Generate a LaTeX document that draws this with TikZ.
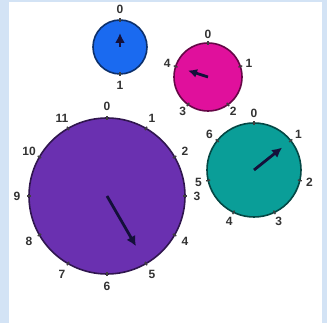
\documentclass[tikz,border=0pt]{standalone}
\usepackage{fontspec}
\setmainfont{Liberation Sans}
\usetikzlibrary{arrows.meta}
\definecolor{bgblue}{HTML}{D3E3F5}
\definecolor{dialblue}{HTML}{1A6AF0}
\definecolor{dialmag}{HTML}{E0109C}
\definecolor{dialteal}{HTML}{0A9E98}
\definecolor{dialpurple}{HTML}{6A30B0}
\definecolor{handcol}{HTML}{14103A}
\tikzset{
  dial/.style={circle, inner sep=0pt, line width=1.6pt},
  lbl/.style={inner sep=0pt, font=\fontsize{12}{12}\selectfont\bfseries, text=black!80},
  tickmark/.style={line width=1.4pt, draw=black!75},
  hand/.style={line width=2.8pt, draw=handcol, -{Latex[length=#1,width=#1]}},
}
% #1 x, #2 y, #3 radius, #4 count, #5 label radius, #6 colour, #7 hand index, #8 hand length, #9 name
\newcommand\mydial[9]{%
  \node[dial, fill=#6, draw=#6!45!black, minimum size=2*#3pt] (#9) at (#1,#2) {};
  \begin{scope}[shift={(#1,#2)}]
    \pgfmathtruncatemacro\nmax{#4-1}
    \pgfmathsetmacro\rin{#3-2}
    \pgfmathsetmacro\rout{#3+2}
    \foreach \k in {0,...,\nmax}{
      \pgfmathsetmacro\a{-90+360*\k/#4}
      \draw[tickmark] (\a:\rin) -- (\a:\rout);
      \node[lbl] (#9-\k) at (\a:#5) {\k};
    }
    \pgfmathsetmacro\ha{-90+360*#7/#4}
    \coordinate (#9-tip) at (\ha:#8);
  \end{scope}
}
\begin{document}
\begin{tikzpicture}[x=1pt,y=-1pt]
\useasboundingbox (0,0) rectangle (327,323);
\fill[bgblue] (0,0) rectangle (327,323);
\fill[white] (9,2) rectangle (322,323);
\mydial{120}{47}{27}{2}{38}{dialblue}{0}{14}{blue}
\mydial{208}{77}{34}{5}{43}{dialmag}{4}{21}{mag}
\mydial{254}{170}{47}{7}{57}{dialteal}{1}{36}{teal}
\mydial{107}{196}{78}{12}{90}{dialpurple}{5}{58}{purple}
\draw[hand=10pt] (blue.center) -- (blue-tip);
\draw[hand=9pt] (mag.center) -- (mag-tip);
\draw[hand=10pt] (teal.center) -- (teal-tip);
\draw[hand=10pt] (purple.center) -- (purple-tip);
\end{tikzpicture}
\end{document}
